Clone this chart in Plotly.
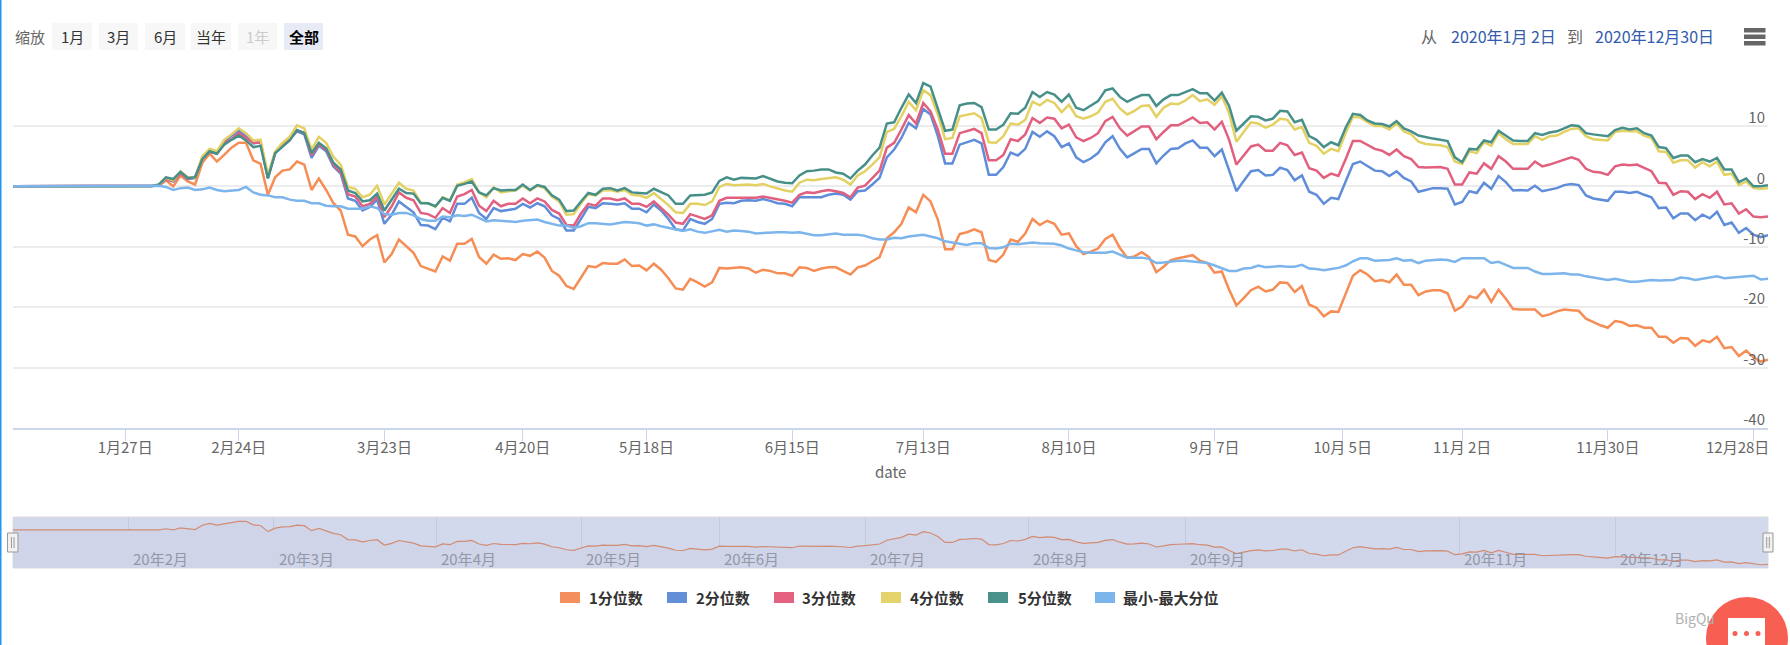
import plotly.graph_objects as go

# ---------- data (one value per trading day, 2020-01-02 .. 2020-12-30) ----------
q1 = [0,0,0,0,0,0,0,0,0,0, 0,0,0,0,0,0,0,0,0,0,
 .1,1.0,0,1.8,.8,.3,3.9,5.4,4.1,5.2,
 6.4,7.2,7.2,4.3,3.7,-1.4,1.5,2.6,2.8,4.1,
 3.6,-.6,1.3,-.6,-2.8,-4.0,-8.0,-8.3,-9.9,-8.8,
 -8.1,-12.6,-11.2,-8.8,-9.9,-11.0,-13.2,-13.6,-14.1,-11.6,
 -12.3,-9.5,-9.5,-8.7,-11.7,-12.8,-11.3,-12.0,-11.9,-12.2,
 -11.2,-11.5,-10.8,-11.8,-14.0,-14.8,-16.5,-17.0,-15.0,-13.2,
 -13.4,-12.7,-12.8,-12.8,-12.1,-13.2,-13.1,-13.9,-12.8,-13.8,
 -15.2,-16.9,-17.1,-15.3,-15.9,-16.6,-15.9,-13.5,-13.6,-13.5,
 -13.4,-13.6,-14.3,-13.8,-14.0,-14.4,-14.4,-14.8,-13.4,-13.5,
 -14.0,-13.6,-13.4,-13.4,-14.0,-14.6,-13.4,-13.1,-12.4,-11.7,
 -8.6,-7.6,-6.2,-3.5,-4.3,-1.4,-2.5,-5.5,-10.4,-10.4,
 -7.9,-7.6,-7.1,-7.6,-12.2,-12.5,-11.3,-8.8,-9.2,-7.8,
 -5.4,-6.4,-5.7,-6.2,-8.0,-7.8,-9.9,-11.2,-10.8,-10.3,
 -8.7,-8.0,-10.2,-11.8,-11.6,-10.9,-11.7,-14.2,-13.3,-12.2,
 -11.9,-11.6,-11.4,-12.3,-12.7,-14.3,-14.1,-17.1,-19.7,-18.5,
 -17.2,-16.6,-17.4,-17.1,-15.9,-16.0,-17.5,-16.5,-19.6,-20.1,
 -21.5,-20.7,-20.8,-17.8,-14.8,-13.9,-14.6,-15.7,-15.5,-15.9,
 -14.6,-16.3,-16.3,-18.0,-17.4,-17.2,-17.2,-17.7,-20.6,-19.9,
 -18.2,-18.5,-17.1,-19.1,-17.1,-18.6,-20.3,-20.4,-20.4,-20.4,
 -21.5,-21.2,-20.7,-20.4,-20.5,-20.6,-21.9,-22.5,-23.0,-23.4,
 -22.3,-22.5,-23.1,-23.0,-23.4,-23.4,-24.9,-24.9,-25.9,-25.1,
 -25.2,-26.4,-25.5,-25.8,-24.9,-26.8,-26.6,-28.1,-27.2,-28.3,
 -29.0,-28.7]
q2 = [0,0,0,0,0,0,0,0,0,0, 0,0,0,0,0,0,0,0,0,0,
 .1,1.2,.8,2.2,1.2,1.4,4.7,5.8,5.5,7.5,
 8.3,9.2,8.3,7.1,7.3,1.4,5.5,6.7,7.8,9.1,
 8.6,4.7,6.7,5.8,3.3,2.1,-2.0,-2.4,-4.0,-3.4,
 -2.2,-6.2,-4.7,-2.5,-3.4,-4.3,-6.4,-6.5,-7.1,-5.2,
 -5.8,-2.9,-2.9,-1.9,-4.4,-5.4,-3.6,-4.1,-3.9,-3.7,
 -2.9,-3.5,-2.8,-3.3,-4.8,-5.4,-7.3,-7.3,-5.4,-3.4,
 -3.6,-2.8,-2.9,-3.0,-2.8,-3.7,-3.7,-4.3,-3.0,-4.0,
 -5.4,-7.1,-7.3,-5.4,-5.9,-6.2,-5.4,-2.9,-2.7,-2.8,
 -2.4,-2.3,-2.4,-2.1,-2.4,-2.8,-2.9,-3.3,-1.8,-1.8,
 -1.9,-1.8,-1.4,-1.2,-1.4,-2.2,-.8,-.7,.3,1.4,
 4.8,6.1,8.0,10.5,9.6,12.8,11.9,8.3,3.8,3.8,
 6.9,7.3,7.7,7.1,1.9,1.9,3.2,5.6,5.1,6.2,
 9.0,8.2,9.1,8.3,6.5,7.1,4.8,4.0,4.6,5.5,
 7.3,8.3,6.2,4.8,5.5,6.2,6.2,3.8,5.1,6.2,
 6.3,7.1,7.6,6.4,6.4,5.0,6.1,2.8,-.8,.9,
 2.5,2.7,1.8,1.9,3.1,2.7,1.0,1.8,-.9,-1.4,
 -2.9,-1.9,-2.1,.8,3.7,4.1,3.4,2.6,2.5,1.7,
 2.5,1.4,.8,-.9,-.6,-.3,-.3,-.4,-3.0,-2.6,
 -.8,-1.1,.6,-.4,1.7,.7,-.7,-.6,-.7,.1,
 -.8,-.6,-.3,.2,.4,.2,-1.5,-2.0,-2.2,-2.4,
 -.9,-.9,-1.1,-.9,-1.4,-1.8,-3.6,-3.5,-5.3,-4.5,
 -4.5,-5.6,-4.7,-5.3,-4.2,-6.4,-6.0,-7.7,-6.9,-8.0,
 -8.4,-8.1]
q3 = [0,0,0,0,0,0,0,0,0,0, 0,0,0,0,0,0,0,0,0,0,
 .1,1.2,.9,2.2,1.3,1.4,4.7,5.7,5.4,7.2,
 7.8,8.8,8.0,7.2,7.2,1.5,5.6,6.8,7.8,9.2,
 8.9,5.2,6.9,6.1,3.6,2.3,-1.3,-1.7,-3.3,-2.9,
 -1.7,-5.1,-3.3,-1.0,-1.9,-2.3,-4.4,-4.6,-5.2,-3.6,
 -4.4,-1.7,-1.3,-.6,-3.2,-4.1,-2.4,-3.3,-2.9,-2.9,
 -2.0,-2.8,-2.0,-2.5,-3.9,-4.5,-6.4,-6.5,-4.5,-2.9,
 -3.2,-2.0,-2.0,-2.3,-2.0,-2.9,-2.9,-3.4,-2.5,-3.6,
 -4.7,-6.0,-6.2,-4.6,-5.0,-5.4,-4.8,-2.4,-1.9,-1.9,
 -1.9,-1.9,-1.9,-1.7,-1.9,-2.2,-2.4,-2.7,-1.4,-1.0,
 -1.1,-.8,-.6,-.8,-1.1,-1.8,-.2,.1,1.4,2.6,
 6.4,7.2,9.4,11.8,10.4,13.8,12.4,9.4,5.4,5.4,
 8.8,9.2,9.5,8.8,4.3,4.3,5.2,7.8,7.5,8.6,
 11.3,10.5,11.4,11.2,9.6,10.2,8.1,7.5,8.0,8.8,
 10.8,11.5,9.6,8.4,9.1,9.9,9.9,7.8,9.0,10.1,
 10.1,10.7,11.4,10.5,10.6,9.4,10.7,7.7,3.6,5.1,
 6.6,6.9,5.9,5.9,7.2,6.8,5.2,5.6,3.0,2.6,
 1.4,2.1,1.7,4.5,7.5,7.5,6.9,6.2,5.9,5.2,
 6.1,5.0,4.5,3.2,3.1,3.2,3.2,2.9,.3,.3,
 2.3,2.1,3.8,2.9,5.0,4.1,2.9,2.9,2.9,4.1,
 3.3,3.6,4.0,4.4,4.8,4.4,2.9,2.4,2.3,1.9,
 3.3,3.6,3.5,3.6,3.0,2.5,.6,.5,-1.4,-.8,
 -.9,-2.1,-1.3,-1.9,-.9,-3.0,-2.8,-4.5,-3.8,-5.0,
 -5.1,-5.0]
q4 = [0,0,0,0,0,0,0,0,0,0, 0,0,0,0,0,0,0,0,0,0,
 .2,1.4,1.0,2.5,1.5,1.4,5.0,6.2,5.8,7.7,
 8.6,9.6,8.8,7.6,7.7,1.9,5.8,7.2,8.2,10.1,
 9.6,6.1,8.2,7.2,4.9,3.6,-.1,-.4,-1.8,-1.4,
 .1,-3.0,-1.2,.6,-.4,-.7,-2.7,-2.8,-3.4,-1.8,
 -2.3,.3,.7,1.2,-1.0,-1.8,-.2,-1.0,-.8,-.7,
 .1,-.7,.1,-.3,-1.7,-2.5,-4.7,-4.6,-2.8,-1.3,
 -1.5,-.7,-.6,-.9,-.6,-1.4,-1.5,-1.9,-1.1,-2.1,
 -3.1,-4.3,-4.4,-2.9,-2.9,-3.1,-2.5,-.1,.4,.2,
 .3,.3,.2,.4,0,-.4,-.7,-.9,.6,1.1,
 1.0,1.2,1.4,1.5,1.1,.3,1.8,2.5,3.6,4.8,
 9.0,9.5,11.6,14.0,12.6,15.9,15.1,11.9,7.8,8.0,
 11.6,11.9,12.1,11.3,7.3,7.2,8.3,10.4,10.2,11.0,
 14.0,13.4,14.3,13.8,12.3,13.5,11.6,11.2,11.6,12.2,
 14.0,14.5,12.9,11.9,12.5,13.3,13.4,11.5,13.0,13.7,
 13.6,14.2,15.1,14.1,14.4,13.5,14.9,12.1,7.4,9.0,
 10.6,10.4,9.7,10.2,11.2,11.0,9.4,9.8,7.2,6.7,
 5.4,6.2,5.8,8.8,11.5,11.4,10.6,10.0,10.0,9.4,
 10.4,9.1,8.6,7.4,7.0,6.9,6.8,6.5,4.1,3.7,
 5.8,5.5,7.3,6.7,8.8,7.8,7.0,7.0,7.0,8.3,
 7.7,8.3,8.4,9.0,9.5,9.6,8.3,7.8,7.7,7.6,
 9.0,9.2,9.1,9.1,8.4,8.0,5.8,5.7,3.9,4.3,
 4.3,3.1,4.0,3.3,4.1,1.9,2.1,.2,.8,-.3,
 -.4,-.3]
q5 = [0,0,0,0,0,0,0,0,0,0, 0,0,0,0,0,0,0,0,0,0,
 .3,1.5,1.2,2.4,1.4,1.5,4.5,5.8,5.4,6.9,
 7.7,8.4,7.6,6.5,6.7,1.3,5.5,6.6,7.6,9.3,
 8.8,5.5,7.2,6.3,3.9,2.8,-.7,-1.1,-2.5,-2.3,
 -1.2,-4.0,-2.3,-.4,-1.1,-1.2,-2.8,-2.8,-3.3,-1.9,
 -2.4,.1,.4,.8,-1.0,-1.5,-.3,-.7,-.6,-.6,
 .3,-.6,.2,-.1,-1.5,-2.2,-4.1,-4.0,-2.5,-1.1,
 -1.4,-.4,-.3,-.7,-.3,-1.0,-1.1,-1.2,-.4,-1.0,
 -1.5,-2.9,-2.9,-1.5,-1.4,-1.4,-1.0,.9,1.5,1.1,
 1.4,1.3,1.3,1.7,1.3,.8,.6,.5,1.8,2.5,
 2.6,2.8,2.8,2.3,2.1,1.3,2.6,3.6,5.1,6.4,
 10.4,10.6,13.0,15.2,13.8,17.1,16.5,13.0,9.2,9.4,
 13.4,13.7,13.8,13.1,9.4,9.4,10.2,12.1,12.0,13.0,
 15.6,14.8,15.6,15.2,14.0,15.2,13.0,12.6,13.3,14.1,
 15.9,16.2,14.8,14.0,14.6,15.1,15.1,13.3,14.4,15.1,
 15.1,15.6,16.1,15.4,15.4,14.2,15.5,13.3,9.2,10.4,
 11.6,11.5,10.9,11.2,12.5,12.4,10.6,11.0,8.3,7.7,
 6.5,7.3,6.8,9.7,12.0,11.8,10.9,10.4,10.3,9.9,
 10.8,9.6,9.1,8.4,8.1,7.9,7.7,7.5,4.8,4.0,
 6.2,6.1,7.6,7.3,9.2,8.4,7.6,7.5,7.5,8.8,
 8.5,8.9,9.1,9.6,10.1,10.0,8.8,8.6,8.5,8.3,
 9.3,9.7,9.4,9.6,8.8,8.4,6.5,6.3,4.7,5.1,
 5.1,4.0,4.5,4.1,4.7,2.8,2.8,.7,1.3,0,
 0,.2]
minmax = [0,0,0,0,0,0,0,0,0,0, 0,0,0,0,0,0,0,0,0,0,
 .1,-.1,-.6,-.3,-.2,-.6,-.5,-.2,-.6,-.8,
 -.7,-.6,-.1,-1.0,-1.4,-1.5,-1.8,-1.8,-2.2,-2.4,
 -2.4,-2.8,-2.8,-3.2,-3.3,-3.3,-3.7,-3.7,-3.7,-3.3,
 -3.6,-4.6,-4.7,-4.4,-4.4,-4.8,-5.4,-5.7,-5.7,-5.0,
 -5.1,-4.8,-4.9,-4.7,-5.3,-5.8,-5.6,-5.7,-5.8,-5.9,
 -5.7,-5.6,-5.5,-5.9,-6.2,-6.5,-6.5,-6.9,-6.6,-6.1,
 -6.1,-6.2,-6.3,-6.1,-5.9,-6.0,-6.1,-6.5,-6.3,-6.6,
 -6.9,-7.2,-7.4,-7.1,-7.5,-7.7,-7.5,-7.2,-7.5,-7.3,
 -7.4,-7.5,-7.8,-7.7,-7.7,-7.6,-7.6,-7.7,-7.6,-7.8,
 -8.1,-8.1,-8.0,-7.8,-8.0,-8.0,-8.0,-8.2,-8.6,-8.8,
 -8.8,-8.5,-8.6,-8.3,-8.1,-8.0,-8.3,-8.6,-9.1,-9.3,
 -9.6,-9.7,-9.4,-9.4,-10.2,-10.3,-10.1,-9.5,-9.6,-9.4,
 -9.3,-9.4,-9.4,-9.5,-9.8,-10.3,-10.6,-10.9,-11.0,-11.0,
 -11.0,-10.8,-11.3,-11.8,-11.8,-11.8,-12.0,-12.7,-12.6,-12.4,
 -12.3,-12.3,-12.4,-12.6,-12.7,-13.1,-13.5,-14.0,-14.0,-13.6,
 -13.5,-13.1,-13.4,-13.3,-13.2,-13.3,-13.3,-13.0,-13.6,-13.7,
 -13.9,-13.7,-13.5,-13.1,-12.4,-11.9,-11.9,-12.3,-12.2,-12.2,
 -11.9,-12.3,-12.2,-12.7,-12.3,-12.2,-12.1,-12.2,-12.5,-11.9,
 -11.9,-12.0,-11.9,-12.7,-12.5,-13.0,-13.5,-13.5,-13.5,-14.1,
 -14.5,-14.5,-14.4,-14.4,-14.6,-14.6,-14.9,-15.1,-15.4,-15.5,
 -15.3,-15.6,-15.8,-15.8,-15.7,-15.5,-15.6,-15.5,-15.5,-15.1,
 -15.2,-15.5,-15.3,-15.2,-14.9,-15.2,-15.1,-15.1,-14.9,-14.8,
 -15.4,-15.3]
names = ["1分位数", "2分位数", "3分位数", "4分位数", "5分位数", "最小-最大分位"]
tick_pos = [15.4, 31, 51, 70, 87, 107, 125, 145, 165, 182.6, 199, 219, 239]
tick_labels = ["1月27日","2月24日","3月23日","4月20日","5月18日","6月15日","7月13日",
               "8月10日","9月 7日","10月 5日","11月 2日","11月30日","12月28日"]
nav_pos = [15.8, 35.8, 58.1, 78, 97, 117, 139.4, 161, 198.6, 220]
nav_labels = ["20年2月","20年3月","20年4月","20年5月","20年6月","20年7月","20年8月","20年9月","20年11月","20年12月"]
y_ticks = [-40, -30, -20, -10, 0, 10, 20]
y_labels = ["-40", "-30", "-20", "-10", "0", "10", ""]
buttons = ["1月", "3月", "6月", "当年", "1年", "全部"]

series = [q1, q2, q3, q4, q5, minmax]
for s in series:
    assert len(s) == 242, len(s)
colors = ["#f58d55", "#5f8dd9", "#e2607f", "#e3d163", "#47908a", "#7cb5ec"]
swatch = ["#f48f5b", "#638ed8", "#e4617f", "#e4d36a", "#4a918c", "#7cb5ec"]

W, H = 1790, 645
PL, PR = 13, 1768
FONT = "Noto Sans CJK SC, Noto Sans, sans-serif"
px = lambda v: v / W
py = lambda v: 1 - v / H
idx = list(range(len(q1)))

fig = go.Figure()

# navigator: floor + first series
nav_min, nav_max = -31.7, 10.8
fig.add_trace(go.Scatter(x=idx, y=[nav_min] * len(idx), xaxis="x2", yaxis="y2", mode="lines",
                         line=dict(width=0), hoverinfo="skip", showlegend=False))
fig.add_trace(go.Scatter(x=idx, y=q1, xaxis="x2", yaxis="y2", mode="lines", fill="tonexty",
                         fillcolor="#cfd4e8", line=dict(color="#d28c73", width=1.2),
                         hoverinfo="skip", showlegend=False))
# main series
for s, n, c in zip(series, names, colors):
    fig.add_trace(go.Scatter(x=idx, y=s, name=n, mode="lines", line=dict(color=c, width=2.5),
                             showlegend=False))

shapes, anns = [], []
def rect(x0, y0, x1, y1, fill, line=None, layer="below", lw=1):
    shapes.append(dict(type="rect", xref="paper", yref="paper", x0=px(x0), x1=px(x1), y0=py(y1), y1=py(y0),
                       fillcolor=fill, line=dict(color=line or fill, width=lw if line else 0), layer=layer))
def text(t, x, y, anchor="left", size=15, color="#666666", bold=False):
    anns.append(dict(text=f"<b>{t}</b>" if bold else t, x=px(x), y=py(y), xref="paper", yref="paper",
                     xanchor=anchor, yanchor="middle", showarrow=False,
                     font=dict(family=FONT, size=size, color=color)))

# page edge line
rect(0, 0, 1.5, H, "#2196f3")

# zoom buttons
text("缩放", 13, 36.5)
btn_x = [(52, 92), (99, 138), (145, 185), (191, 231), (238, 277), (284, 323)]
for i, (b, (x0, x1)) in enumerate(zip(buttons, btn_x)):
    selected = b == "全部"
    disabled = b == "1年"
    rect(x0, 23, x1, 50, "#e6ebf5" if selected else "#f7f7f7")
    text(b, (x0 + x1) / 2, 36.5, "center", 15,
         "#000000" if selected else ("#cccccc" if disabled else "#333333"), bold=selected)

# date range
text("从", 1428.5, 36, "center", 16)
text("2020年1月 2日", 1503, 36, "center", 16, "#335cad")
text("到", 1575, 36, "center", 16)
text("2020年12月30日", 1654, 36, "center", 16, "#335cad")
for y in (28, 34.5, 41):
    rect(1744, y, 1765.5, y + 4.5, "#666666")

# navigator band
rect(PL, 517, PR, 568, "#d2d9ec", "#dcdcdc")
for lab, pos in zip(nav_labels, nav_pos):
    anns.append(dict(text=lab, x=pos, y=py(558), xref="x", yref="paper", xanchor="left", yanchor="middle",
                     xshift=3, showarrow=False, font=dict(family=FONT, size=15, color="#9397a6")))
# navigator handles
for x0, x1 in ((7.5, 18), (1763, 1773)):
    rect(x0, 533, x1, 552, "#f2f2f2", "#999999", "above")
    mid = (x0 + x1) / 2
    for dx in (-1.3, 1.3):
        shapes.append(dict(type="line", xref="paper", yref="paper", x0=px(mid + dx), x1=px(mid + dx),
                           y0=py(537), y1=py(548), line=dict(color="#999999", width=1), layer="above"))

# hand-positioned last x label (pulled inside the plot edge)
anns.append(dict(text=tick_labels[-1], x=tick_pos[-1], y=py(446), xref="x", yref="paper", xanchor="center",
                 yanchor="middle", xshift=-16, showarrow=False, font=dict(family=FONT, size=15, color="#666666")))

# x title
text("date", 890.5, 471, "center")

# legend
leg = [(560, 587), (667, 693.5), (774, 800), (881, 908), (988, 1016), (1095, 1121)]
for (sx, tx), n, c in zip(leg, names, swatch):
    rect(sx, 592, sx + 20, 603, c)
    text(n, tx, 597.5, "left", 15, "#333333", bold=True)

# watermark + chat button
text("BigQu", 1673, 617.5, "left", 14, "#b0b0b0")
shapes.append(dict(type="circle", xref="paper", yref="paper", x0=px(1706), x1=px(1788), y0=py(679), y1=py(597),
                   fillcolor="#f65f52", line=dict(width=0), layer="above"))
rect(1728, 618, 1765, 660, "#ffffff", None, "above")
for cx in (1735, 1746.5, 1758):
    shapes.append(dict(type="circle", xref="paper", yref="paper", x0=px(cx - 2.5), x1=px(cx + 2.5),
                       y0=py(636), y1=py(631), fillcolor="#f65f52", line=dict(width=0), layer="above"))

fig.update_layout(
    width=W, height=H, autosize=False, margin=dict(l=0, r=0, t=0, b=0),
    paper_bgcolor="white", plot_bgcolor="rgba(0,0,0,0)", showlegend=False,
    font=dict(family=FONT, size=15, color="#666666"),
    shapes=shapes, annotations=anns,
    xaxis=dict(domain=[px(PL), px(PR)], range=[0, len(q1) - 1], anchor="y",
               tickmode="array", tickvals=tick_pos, ticktext=tick_labels[:-1] + [""],
               ticks="outside", ticklen=11, tickcolor="#ccd6eb", tickwidth=1,
               showline=True, linecolor="#ccd6eb", linewidth=2, showgrid=False, zeroline=False,
               tickfont=dict(size=15, color="#666666"), ticklabelstandoff=-6),
    yaxis=dict(domain=[py(428), py(65.5)], range=[-40, 20], side="right", anchor="x",
               tickmode="array", tickvals=y_ticks, ticktext=y_labels, ticks="",
               ticklabelposition="inside", ticklabelshift=-8, ticklabeloverflow="allow",
               showgrid=True, gridcolor="#ececec", gridwidth=1.5, zeroline=False, showline=False,
               tickfont=dict(size=15, color="#666666")),
    xaxis2=dict(domain=[px(PL), px(PR)], range=[0, len(q1) - 1], anchor="y2",
                tickmode="array", tickvals=nav_pos, showticklabels=False, ticks="",
                showgrid=True, gridcolor="#c3cadc", gridwidth=1, zeroline=False),
    yaxis2=dict(domain=[py(568), py(517)], range=[nav_min, nav_max], anchor="x2", visible=False),
)

fig.write_html("out.html", config={"displayModeBar": False},
               post_script="document.body.style.margin='0';document.body.style.overflow='hidden';")
